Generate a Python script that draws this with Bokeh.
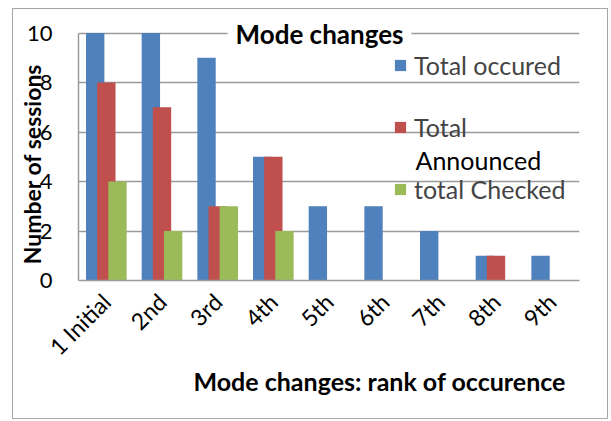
import math
from bokeh.plotting import figure
from bokeh.models import (Range1d, FactorRange, Label, Legend, LegendItem, FixedTicker,
                          ColumnDataSource, Title)
from bokeh.transform import dodge
from bokeh.embed import file_html
from bokeh.resources import INLINE

# ---- data ----
categories = ["1 Initial", "2nd", "3rd", "4th", "5th", "6th", "7th", "8th", "9th"]
total_occured = [10, 10, 9, 5, 3, 3, 2, 1, 1]
total_announced = [8, 7, 3, 5, 0, 0, 0, 1, 0]
total_checked = [4, 2, 3, 2, 0, 0, 0, 0, 0]
y_ticks = [0, 2, 4, 6, 8, 10]

FONT = "Lato"
GRID = "#9a9a9a"
NB = "\u00a0"

p = figure(
    x_range=FactorRange(*categories),
    y_range=Range1d(0, 10.55),
    width=596, height=411,
    output_backend="svg", toolbar_location=None,
    min_border_left=65, min_border_top=10, min_border_right=30, min_border_bottom=140,
)
p.margin = (8, 0, 0, 12)
p.styles = {"border": "1px solid #a6a6a6"}
p.outline_line_color = None
p.background_fill_color = "white"
p.border_fill_color = "white"

source = ColumnDataSource(dict(cat=categories, occ=total_occured, ann=total_announced, chk=total_checked))

r1 = p.vbar(x=dodge("cat", -0.2, range=p.x_range), top="occ", width=0.33, source=source,
            fill_color="#4F81BD", line_color=None)
r2 = p.vbar(x=dodge("cat", 0.0, range=p.x_range), top="ann", width=0.33, source=source,
            fill_color="#C0504D", line_color=None)
r3 = p.vbar(x=dodge("cat", 0.2, range=p.x_range), top="chk", width=0.33, source=source,
            fill_color="#9BBB59", line_color=None)

# axes
p.yaxis.ticker = FixedTicker(ticks=y_ticks)
p.yaxis.bounds = (0, 10)
p.yaxis.major_tick_line_color = None
p.yaxis.major_tick_out = 0
p.yaxis.major_tick_in = 0
p.yaxis.minor_tick_line_color = None
p.yaxis.minor_tick_out = 0
p.yaxis.axis_line_color = GRID
p.yaxis.axis_line_width = 1.5
p.yaxis.major_label_text_font = FONT
p.yaxis.major_label_text_font_size = "22px"
p.yaxis.major_label_text_color = "black"
p.yaxis.major_label_standoff = 26
p.yaxis.axis_label = "Number of sessions" + NB * 5
p.yaxis.axis_label_text_font = FONT
p.yaxis.axis_label_text_font_style = "bold"
p.yaxis.axis_label_text_font_size = "23px"
p.yaxis.axis_label_text_color = "black"
p.yaxis.axis_label_standoff = -22

p.xaxis.major_tick_line_color = None
p.xaxis.major_tick_out = 0
p.xaxis.major_tick_in = 0
p.xaxis.axis_line_color = GRID
p.xaxis.axis_line_width = 1.5
p.xaxis.major_label_orientation = math.pi / 4
p.xaxis.major_label_text_font = FONT
p.xaxis.major_label_text_font_size = "23px"
p.xaxis.major_label_text_color = "black"
p.xaxis.major_label_standoff = 17

p.xgrid.grid_line_color = None
p.ygrid.grid_line_color = GRID
p.ygrid.grid_line_width = 1.5
p.ygrid.bounds = (0, 10)

# x axis title (below the axis, shifted right as in the original)
p.add_layout(Title(text="Mode changes:  rank of occurence", align="left", offset=115,
                   text_font=FONT, text_font_style="bold", text_font_size="25px",
                   text_color="black", standoff=-20), "below")

# chart title
p.add_layout(Label(x=241, y=247, x_units="screen", y_units="screen",
                   text="Mode changes", text_font=FONT, text_font_style="bold",
                   text_font_size="26px", text_align="center", text_baseline="middle",
                   text_color="black", background_fill_color="white", padding=8))

# legend
legend = Legend(items=[LegendItem(label="Total occured", renderers=[r1]),
                       LegendItem(label="Total", renderers=[r2]),
                       LegendItem(label="total Checked", renderers=[r3])],
                location=(315, 76), orientation="vertical",
                label_text_font=FONT, label_text_font_size="25px",
                glyph_width=14, glyph_height=14, label_height=30, label_standoff=7,
                spacing=32, padding=0, margin=0,
                background_fill_alpha=0, border_line_color=None)
p.add_layout(legend, "center")
p.add_layout(Label(x=337, y=121, x_units="screen", y_units="screen",
                   text="Announced", text_font=FONT, text_font_size="25px",
                   text_align="left", text_baseline="middle", text_color="black"))

open("out.html", "w").write(file_html(p, INLINE))
